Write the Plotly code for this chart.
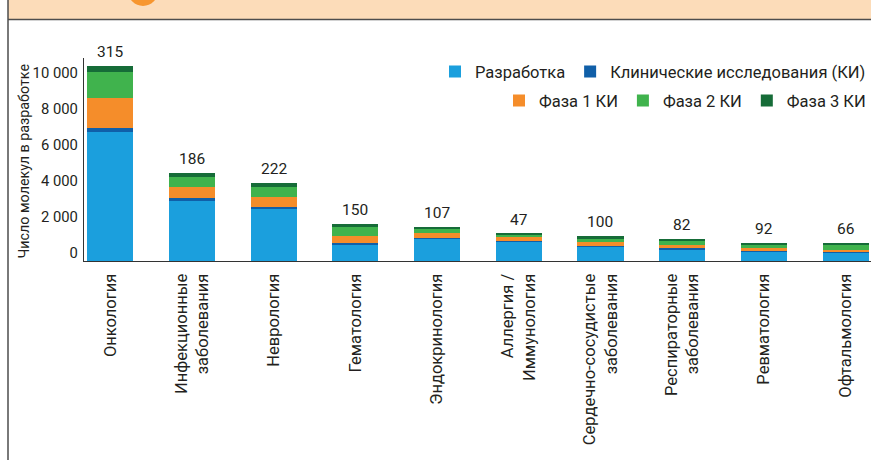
import plotly.graph_objects as go

categories = ["Онкология", "Инфекционные<br>заболевания", "Неврология", "Гематология",
              "Эндокринология", "Аллергия /<br>Иммунология", "Сердечно-сосудистые<br>заболевания",
              "Респираторные<br>заболевания", "Ревматология", "Офтальмология"]
development = [7170, 3360, 2900, 900, 1220, 1070, 780, 650, 500, 460]
clinical = [190, 110, 95, 80, 55, 55, 50, 55, 70, 55]
phase1 = [1700, 640, 540, 400, 260, 220, 200, 185, 150, 95]
phase2 = [1420, 560, 550, 510, 240, 110, 240, 220, 180, 295]
phase3 = [315, 186, 222, 150, 107, 47, 100, 82, 92, 66]

series = [
    ("Разработка", development, "#1b9fdd", "legend"),
    ("Клинические исследования (КИ)", clinical, "#105fa8", "legend"),
    ("Фаза 1 КИ", phase1, "#f58d2a", "legend2"),
    ("Фаза 2 КИ", phase2, "#40b34d", "legend2"),
    ("Фаза 3 КИ", phase3, "#166c38", "legend2"),
]

FONT = "Roboto, Arial, sans-serif"
TXT = "#231f20"

W, H = 871, 460
L, R, T, B = 84, 0, 58, 199
PW, PH = W - L - R, H - T - B

def px_x(x):
    return (x - L) / PW

def px_y(y):
    return (H - B - y) / PH

fig = go.Figure()
for name, vals, color, leg in series:
    fig.add_trace(go.Bar(x=categories, y=vals, name=name, marker=dict(color=color, line=dict(width=0)),
                         legend=leg))

totals = [sum(v) for v in zip(development, clinical, phase1, phase2, phase3)]
for cat, tot, lab in zip(categories, totals, phase3):
    fig.add_annotation(x=cat, y=tot, text=str(lab), showarrow=False, yanchor="middle", yshift=14,
                       font=dict(family=FONT, size=15.5, color=TXT))

fig.add_annotation(xref="paper", yref="paper", x=px_x(23.5), y=px_y(161), text="Число молекул в разработке",
                   textangle=-90, showarrow=False, xanchor="center", yanchor="middle",
                   font=dict(family=FONT, size=14.3, color=TXT))

shapes = [
    dict(type="rect", xref="paper", yref="paper", x0=px_x(8), x1=px_x(880), y0=px_y(19.5), y1=px_y(-10),
         fillcolor="#fcdcb9", line=dict(width=0), layer="below"),
    dict(type="line", xref="paper", yref="paper", x0=px_x(8), x1=px_x(880), y0=px_y(19.5), y1=px_y(19.5),
         line=dict(color="#4d4d4d", width=1.5)),
    dict(type="line", xref="paper", yref="paper", x0=px_x(8), x1=px_x(8), y0=px_y(-10), y1=px_y(470),
         line=dict(color="#4d4d4d", width=1.5)),
    dict(type="circle", xref="paper", yref="paper", x0=px_x(128), x1=px_x(158), y0=px_y(6), y1=px_y(-24),
         fillcolor="#f7962f", line=dict(width=0)),
]

fig.update_layout(
    width=W, height=H, barmode="stack", bargap=0.437,
    margin=dict(l=L, r=R, t=T, b=B, pad=0),
    paper_bgcolor="white", plot_bgcolor="white",
    separators=", ",
    font=dict(family=FONT, size=15, color=TXT),
    shapes=shapes,
    xaxis=dict(range=[-0.32, 9.31], showline=True, linecolor="#333333", linewidth=1.3,
               tickangle=-90, ticks="", ticklabelstandoff=5, showgrid=False, zeroline=False,
               tickfont=dict(family=FONT, size=16.5, color=TXT)),
    yaxis=dict(range=[0, 11250], showline=True, linecolor="#333333", linewidth=1.3,
               tickvals=[0, 2000, 4000, 6000, 8000, 10000], tickformat=",d", ticks="",
               ticklabelshift=-8, ticklabelstandoff=2, showgrid=False, zeroline=False,
               tickfont=dict(family=FONT, size=14.8, color=TXT)),
    legend=dict(orientation="h", x=1, xanchor="right", y=px_y(71.7), yanchor="middle",
                font=dict(family=FONT, size=16.5, color=TXT), bgcolor="rgba(0,0,0,0)", traceorder="normal"),
    legend2=dict(orientation="h", x=1, xanchor="right", y=px_y(100.7), yanchor="middle",
                 font=dict(family=FONT, size=16.5, color=TXT), bgcolor="rgba(0,0,0,0)", traceorder="normal"),
)

fig.write_html("out.html", config={"displayModeBar": False},
               post_script="document.body.style.margin='0';document.body.style.overflow='hidden';")
